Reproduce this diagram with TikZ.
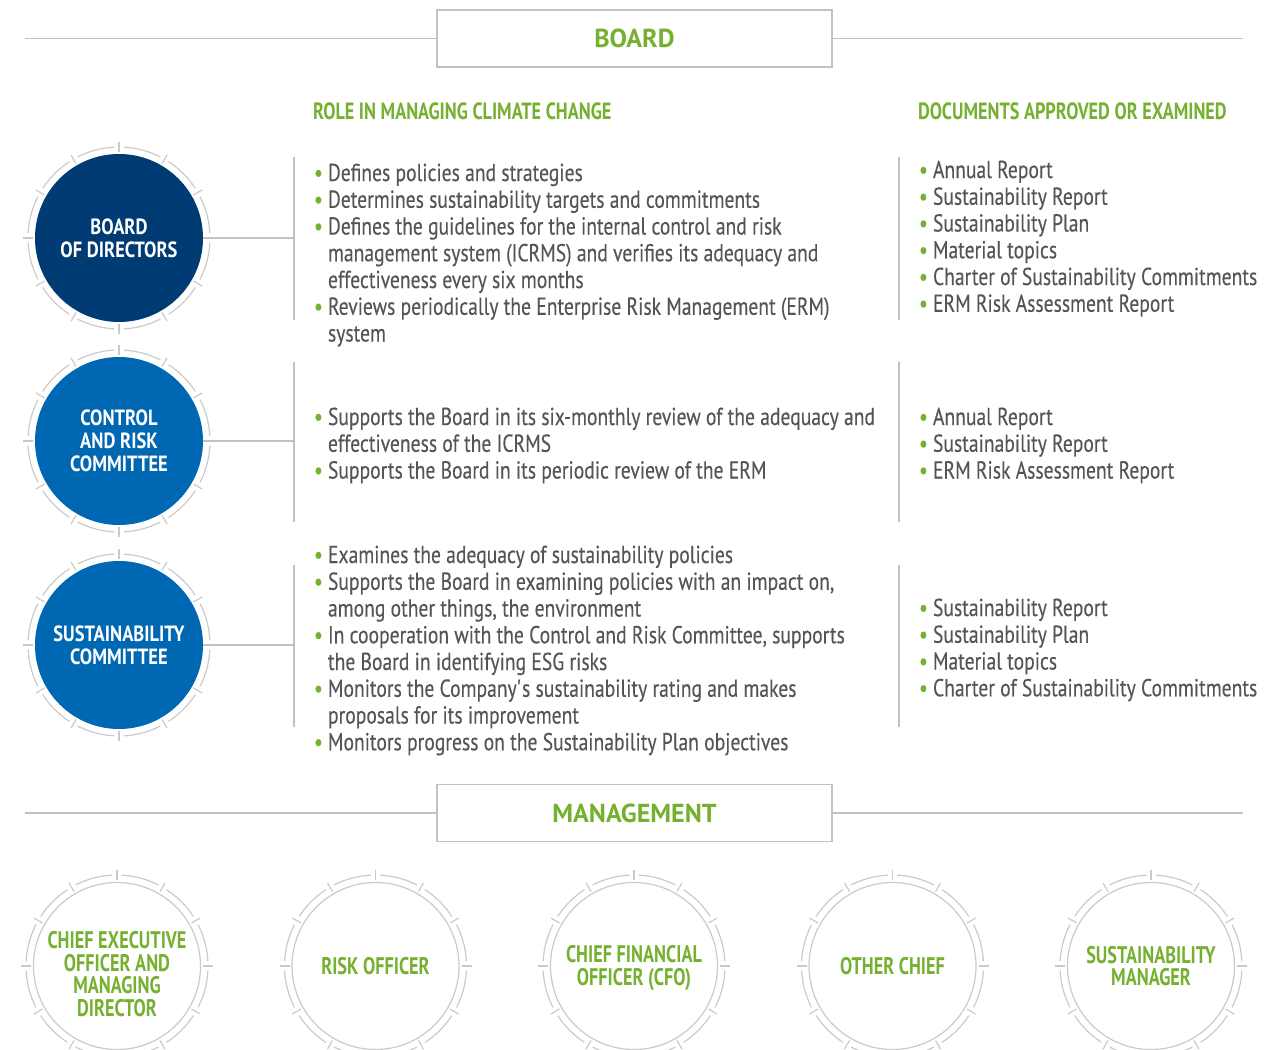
\documentclass[tikz,border=0pt]{standalone}
\usepackage{fontspec}
\setmainfont{PT Sans}
\newfontfamily\txtf{PT Sans}[FakeStretch=0.80,FakeBold=0.25]
\newfontfamily\hdf{PT Sans}[FakeStretch=0.774]
\newfontfamily\orgf{PT Sans}[FakeStretch=0.84]
\newfontfamily\mgrf{PT Sans}[FakeStretch=0.76]
\newfontfamily\boxf{PT Sans}
\definecolor{navy}{HTML}{003B73}
\definecolor{mblue}{HTML}{0067B2}
\definecolor{bgreen}{HTML}{76B030}
\definecolor{tgrey}{HTML}{555555}
\definecolor{lgrey}{HTML}{C2C2C2}
\definecolor{rgrey}{HTML}{CACACA}
\newcommand\bul{\makebox[14pt][l]{\textcolor{bgreen}{\textbullet}}}
\newcommand\cont{\hspace*{14pt}}
\newcommand\st{\rule{0pt}{20pt}}
\newcommand\tickring[2]{%
  \foreach \a in {0,30,...,330}{%
    \draw[ring,shift={(#1,#2)}] (\a+3:91) arc[start angle=\a+3, end angle=\a+27, radius=91];
    \draw[ring,shift={(#1,#2)}] (\a:86) -- (\a:96);
  }}
\begin{document}
\begin{tikzpicture}[x=1pt,y=-1pt,
  every node/.style={inner sep=0pt, outer sep=0pt},
  rule/.style={draw=lgrey, line width=1.2pt},
  ring/.style={draw=rgrey, line width=1.2pt},
  headbox/.style={draw=lgrey, line width=1.3pt, fill=white, minimum width=395pt, minimum height=57pt, text=bgreen, font=\boxf\bfseries\fontsize{26}{26}\selectfont},
  colhead/.style={anchor=west, text=bgreen, font=\hdf\bfseries\fontsize{23.5}{23.5}\selectfont},
  txt/.style={anchor=north west, align=left, text=tgrey, font=\txtf\fontsize{24.5}{26.75}\selectfont},
  org/.style={circle, minimum size=168pt, text=white, align=center, font=\orgf\bfseries\fontsize{22}{23}\selectfont},
  mgr/.style={circle, draw=rgrey, line width=1.2pt, minimum size=167pt},
  mgrtext/.style={text=bgreen, align=center, font=\mgrf\bfseries\fontsize{24}{22.5}\selectfont}
]
\useasboundingbox (0,0) rectangle (1287,1049);
\clip (0,0) rectangle (1287,1049);

% section headers
\node[headbox] (board) at (634.5,38.5) {BOARD};
\coordinate (bl) at (25,38.5);
\coordinate (br) at (1243,38.5);
\draw[rule] (bl) -- (board.west);
\draw[rule] (board.east) -- (br);

\node[headbox] (mgmt) at (634.5,813) {MANAGEMENT};
\coordinate (ml) at (25,813);
\coordinate (mr) at (1243,813);
\draw[rule] (ml) -- (mgmt.west);
\draw[rule] (mgmt.east) -- (mr);

% column headers
\node[colhead] (h1) at (313,111) {ROLE IN MANAGING CLIMATE CHANGE};
\node[colhead] (h2) at (918,111) {DOCUMENTS APPROVED OR EXAMINED};

% board organs
\node[org, fill=navy] (c1) at (119,238) {BOARD\\OF DIRECTORS};
\tickring{119}{238}
\node[org, fill=mblue] (c2) at (119,441) {CONTROL\\AND RISK\\COMMITTEE};
\tickring{119}{441}
\node[org, fill=mblue] (c3) at (119,645) {SUSTAINABILITY\\COMMITTEE};
\tickring{119}{645}

% connectors and separators
\coordinate (j1) at (294,238);
\coordinate (j2) at (294,441);
\coordinate (j3) at (294,645);
\draw[rule] (c1.east) -- (j1);
\draw[rule] (c2.east) -- (j2);
\draw[rule] (c3.east) -- (j3);
\coordinate (a1t) at (294,157); \coordinate (a1b) at (294,320);
\coordinate (a2t) at (294,362); \coordinate (a2b) at (294,522);
\coordinate (a3t) at (294,565); \coordinate (a3b) at (294,727);
\coordinate (b1t) at (899,157); \coordinate (b1b) at (899,320);
\coordinate (b2t) at (899,362); \coordinate (b2b) at (899,522);
\coordinate (b3t) at (899,565); \coordinate (b3b) at (899,727);
\draw[rule] (a1t) -- (a1b);
\draw[rule] (a2t) -- (a2b);
\draw[rule] (a3t) -- (a3b);
\draw[rule] (b1t) -- (b1b);
\draw[rule] (b2t) -- (b2b);
\draw[rule] (b3t) -- (b3b);

% role texts
\node[txt] (t1) at (314,161) {\st\bul Defines policies and strategies\\
\bul Determines sustainability targets and commitments\\
\bul Defines the guidelines for the internal control and risk\\
\cont management system (ICRMS) and verifies its adequacy and\\
\cont effectiveness every six months\\
\bul Reviews periodically the Enterprise Risk Management (ERM)\\
\cont system};
\node[txt] (t2) at (314,405) {\st\bul Supports the Board in its six-monthly review of the adequacy and\\
\cont effectiveness of the ICRMS\\
\bul Supports the Board in its periodic review of the ERM};
\node[txt] (t3) at (314,543) {\st\bul Examines the adequacy of sustainability policies\\
\bul Supports the Board in examining policies with an impact on,\\
\cont among other things, the environment\\
\bul In cooperation with the Control and Risk Committee, supports\\
\cont the Board in identifying ESG risks\\
\bul Monitors the Company\textquotesingle s sustainability rating and makes\\
\cont proposals for its improvement\\
\bul Monitors progress on the Sustainability Plan objectives};

% document texts
\node[txt] (d1) at (919,158) {\st\bul Annual Report\\
\bul Sustainability Report\\
\bul Sustainability Plan\\
\bul Material topics\\
\bul Charter of Sustainability Commitments\\
\bul ERM Risk Assessment Report};
\node[txt] (d2) at (919,405) {\st\bul Annual Report\\
\bul Sustainability Report\\
\bul ERM Risk Assessment Report};
\node[txt] (d3) at (919,596) {\st\bul Sustainability Report\\
\bul Sustainability Plan\\
\bul Material topics\\
\bul Charter of Sustainability Commitments};

% management
\node[mgr] (m1) at (117,966) {};
\node[mgrtext] (m1t) at (117,974) {CHIEF EXECUTIVE\\OFFICER AND\\MANAGING\\DIRECTOR};
\tickring{117}{966}
\node[mgr] (m2) at (375.5,966) {};
\node[mgrtext] (m2t) at (375.5,966) {RISK OFFICER};
\tickring{375.5}{966}
\node[mgr] (m3) at (634,966) {};
\node[mgrtext] (m3t) at (634,968) {CHIEF FINANCIAL\\OFFICER (CFO)};
\tickring{634}{966}
\node[mgr] (m4) at (892.5,966) {};
\node[mgrtext] (m4t) at (892.5,966) {OTHER CHIEF};
\tickring{892.5}{966}
\node[mgr] (m5) at (1151,966) {};
\node[mgrtext] (m5t) at (1151,966) {SUSTAINABILITY\\MANAGER};
\tickring{1151}{966}
\end{tikzpicture}
\end{document}
